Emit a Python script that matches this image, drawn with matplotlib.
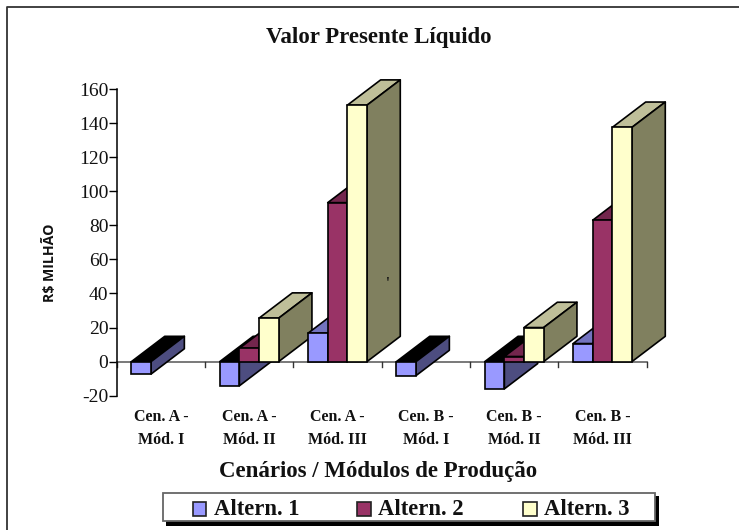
import matplotlib
matplotlib.use("Agg")
import matplotlib.pyplot as plt
from matplotlib.patches import Polygon, Rectangle
from matplotlib.lines import Line2D

categories = ["Cen. A -\nMód. I", "Cen. A -\nMód. II", "Cen. A -\nMód. III",
              "Cen. B -\nMód. I", "Cen. B -\nMód. II", "Cen. B -\nMód. III"]
alt1 = [-7.3, -14.2, 16.7, -8.2, -16.0, 10.6]
alt2 = [0, 7.8, 93.3, 0, 3.0, 83.0]
alt3 = [0, 25.5, 150.5, 0, 20.0, 137.5]
series_names = ["Altern. 1", "Altern. 2", "Altern. 3"]
yticks = [-20, 0, 20, 40, 60, 80, 100, 120, 140, 160]

W, H = 739, 530
SERIF = "Liberation Serif"
fig = plt.figure(figsize=(W / 100, H / 100), dpi=100, facecolor="white")

def px_rect(l, t, r, b):
    return [l / W, 1 - b / H, (r - l) / W, (b - t) / H]

bg = fig.add_axes([0, 0, 1, 1], zorder=0)
bg.set_xlim(0, W); bg.set_ylim(H, 0); bg.axis("off")
bg.add_line(Line2D([7, 7, W], [H, 6.5, 6.5], color="#333333", lw=1.3))

ax = fig.add_axes(px_rect(116.7, 89, 646.7, 395.7), zorder=1)
ax.patch.set_alpha(0)
ax.set_xlim(0, len(categories))
ax.set_ylim(-20, 160)

BAR_W = 0.2222
GROUP_PAD = 0.1667
DX = 33.3 / (530 / 6)
DY = 25.3 / (306.7 / 180)

styles = [
    dict(front="#9999ff", top="#7373bf", side="#4d4d80", under="#000000"),
    dict(front="#993366", top="#73264d", side="#4d1a33", under="#000000"),
    dict(front="#ffffcc", top="#bfbf99", side="#80805f", under="#000000"),
]

z = 3
for i in range(len(categories)):
    for s, vals in enumerate([alt1, alt2, alt3]):
        v = vals[i]
        if v == 0:
            continue
        st = styles[s]
        x0 = i + GROUP_PAD + s * BAR_W
        x1 = x0 + BAR_W
        hi = max(v, 0)
        lo = min(v, 0)
        kw = dict(edgecolor="black", lw=1.2, clip_on=False, joinstyle="round")
        top_color = st["top"] if v > 0 else st["under"]
        ax.add_patch(Polygon([(x0, hi), (x1, hi), (x1 + DX, hi + DY), (x0 + DX, hi + DY)],
                             facecolor=top_color, zorder=z, **kw))
        ax.add_patch(Polygon([(x1, lo), (x1 + DX, lo + DY), (x1 + DX, hi + DY), (x1, hi)],
                             facecolor=st["side"], zorder=z, **kw))
        ax.bar(x0, v, width=BAR_W, align="edge", facecolor=st["front"], zorder=z,
               edgecolor="black", lw=1.2, clip_on=False)
        z += 1

for sp in ("top", "right", "bottom"):
    ax.spines[sp].set_visible(False)
ax.spines["left"].set_color("black")
ax.spines["left"].set_linewidth(1.1)
ax.spines["left"].set_zorder(2)

ax.axhline(0, color="#555555", lw=1.1, zorder=2, clip_on=False)
ax.set_yticks(yticks)
ax.set_yticklabels([str(t) for t in yticks], fontfamily=SERIF, fontsize=14, color="#111111")
ax.tick_params(axis="y", length=5.5, width=1.0, pad=0.5)
ax.set_xticks([])

for i in range(len(categories) + 1):
    ax.plot([i, i], [0, -3.2], color="#333333", lw=1.0, zorder=2, clip_on=False)

for i, c in enumerate(categories):
    ax.text(i + 0.5, -27.6, c, ha="center", va="top", fontfamily=SERIF, fontweight="bold",
            fontsize=11.5, linespacing=1.58, color="#111111")

# small stray mark present on the tall bar's side face
ax.text(3.07, 46, "'", ha="center", va="center", fontfamily=SERIF, fontweight="bold",
        fontsize=10, color="#111111", zorder=50)

fig.text(378.5 / W, 1 - 37.5 / H, "Valor Presente Líquido", ha="center", va="center",
         fontfamily=SERIF, fontweight="bold", fontsize=16.5, color="#111111")
fig.text(378 / W, 1 - 471 / H, "Cenários / Módulos de Produção", ha="center", va="center",
         fontfamily=SERIF, fontweight="bold", fontsize=16.5, color="#111111")
fig.text(50 / W, 1 - 263 / H, "R$ MILHÃO", rotation=90, ha="center", va="center",
         fontfamily="Open Sans", fontweight="bold", fontsize=10.2, color="#111111")

# legend box
bg.add_patch(Rectangle((165.5, 496), 493, 30, facecolor="black", edgecolor="none", zorder=2))
bg.add_patch(Rectangle((162.5, 492.5), 492.5, 28, facecolor="white", edgecolor="#666666", lw=1.3, zorder=3))
leg_x = [192.8, 357, 523]
for name, st, lx in zip(series_names, styles, leg_x):
    bg.add_patch(Rectangle((lx, 502), 13.5, 13.5, facecolor=st["front"], edgecolor="#222222", lw=1.2, zorder=4))
    bg.text(lx + 21, 509.5, name, ha="left", va="center", fontfamily=SERIF, fontweight="bold",
            fontsize=16.3, color="#111111", zorder=4)

fig.savefig("out.png", dpi=100)
